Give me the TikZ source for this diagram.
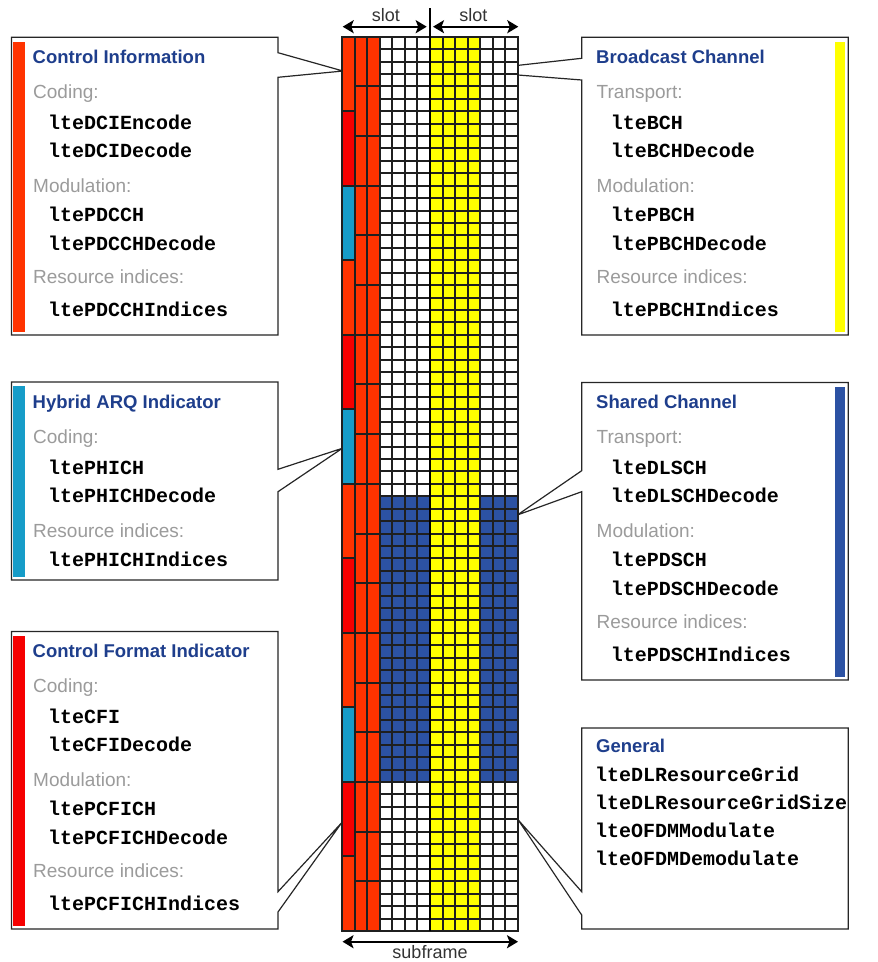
\documentclass[tikz,border=0pt]{standalone}
\usepackage{fontspec}
\setmainfont{Liberation Sans}
\newfontfamily\codefont{Liberation Mono}
\usetikzlibrary{arrows.meta,calc}
\definecolor{pdcch}{RGB}{255,51,0}
\definecolor{pcfich}{RGB}{245,0,0}
\definecolor{phich}{RGB}{22,156,200}
\definecolor{pbch}{RGB}{255,255,0}
\definecolor{pdsch}{RGB}{44,82,163}
\definecolor{titleblue}{RGB}{30,62,140}
\definecolor{labelgrey}{RGB}{155,155,155}
\pgfmathdeclarefunction{gcx}{1}{\pgfmathparse{round(342+#1*12.5714)}}
\pgfmathdeclarefunction{gry}{1}{\pgfmathparse{round(36.7+#1*12.4208)}}
\begin{document}
\begin{tikzpicture}[x=1pt,y=-1pt,
  panel/.style={rectangle,inner sep=0pt,outer sep=0pt},
  outline/.style={draw=black!85,line width=1.2pt,fill=white,line join=miter},
  ptitle/.style={anchor=base west,inner sep=0pt,font=\fontsize{18.5}{20}\selectfont\bfseries,text=titleblue},
  plabel/.style={anchor=base west,inner sep=0pt,font=\fontsize{19}{21}\selectfont,text=labelgrey},
  fn/.style={anchor=base west,inner sep=0pt,font=\fontsize{20}{22}\selectfont\codefont\bfseries},
  gridline/.style={draw=black!88,line width=1.9pt},
  dimarrow/.style={line width=2.4pt,{Stealth[length=11pt,width=13pt,inset=2.5pt]}-{Stealth[length=11pt,width=13pt,inset=2.5pt]}},
  dimlabel/.style={anchor=base,inner sep=0pt,font=\fontsize{18}{20}\selectfont,text=black!80}
]
\useasboundingbox (0,0) rectangle (878,962);

% ---------- panels ----------
\node[panel,minimum width=266.5pt,minimum height=297.7pt] (ci) at (144.75,186.15) {};
\node[panel,minimum width=266.6pt,minimum height=297.7pt] (bc) at (715,186.15) {};
\node[panel,minimum width=266.5pt,minimum height=198pt] (hq) at (144.75,481) {};
\node[panel,minimum width=266.6pt,minimum height=297.5pt] (sc) at (715,531.25) {};
\node[panel,minimum width=266.5pt,minimum height=297.5pt] (cf) at (144.75,780.25) {};
\node[panel,minimum width=266.6pt,minimum height=201pt] (ge) at (715,828.5) {};

% callout tips and notch heights
\coordinate (ciTip) at (343,71);    \coordinate (ciA) at (0,52.7);  \coordinate (ciB) at (0,77.3);
\coordinate (bcTip) at (467,71);    \coordinate (bcA) at (0,58.3);  \coordinate (bcB) at (0,80);
\coordinate (hqTip) at (342.3,448.3); \coordinate (hqA) at (0,469.3); \coordinate (hqB) at (0,491.7);
\coordinate (scTip) at (517.3,515); \coordinate (scA) at (0,470.7); \coordinate (scB) at (0,491.7);
\coordinate (cfTip) at (341.7,822.7); \coordinate (cfA) at (0,891.7); \coordinate (cfB) at (0,912);
\coordinate (geTip) at (518.3,820); \coordinate (geA) at (0,891.7); \coordinate (geB) at (0,915);

% left panels (notch on the right edge)
\foreach \p in {ci,hq,cf}{
  \draw[outline] (\p.east |- \p A) -- (\p.north east) -- (\p.north west) -- (\p.south west)
     -- (\p.south east) -- (\p.east |- \p B) -- (\p Tip) -- cycle;
}
% right panels (notch on the left edge)
\foreach \p in {bc,sc,ge}{
  \draw[outline] (\p.west |- \p A) -- (\p.north west) -- (\p.north east) -- (\p.south east)
     -- (\p.south west) -- (\p.west |- \p B) -- (\p Tip) -- cycle;
}

% colour bars
\fill[pdcch]  ($(ci.north west)+(1.8,4.4)$) rectangle ($(ci.south west)+(13.5,-3.3)$);
\fill[phich]  ($(hq.north west)+(1.8,4.4)$) rectangle ($(hq.south west)+(13.5,-3.3)$);
\fill[pcfich] ($(cf.north west)+(1.8,4.4)$) rectangle ($(cf.south west)+(13.5,-3.3)$);
\fill[pbch]   ($(bc.north east)+(-13.3,4.4)$) rectangle ($(bc.south east)+(-3.3,-3.3)$);
\fill[pdsch]  ($(sc.north east)+(-13.3,4.4)$) rectangle ($(sc.south east)+(-3.3,-3.3)$);

% ---------- panel texts ----------
% Control Information
\node[ptitle] (ciT) at (32.5,63.3) {Control Information};
\node[plabel] (ciL1) at (33,98.3) {Coding:};
\node[fn] (ciC1) at (48,129.3) {lteDCIEncode};
\node[fn] (ciC2) at (48,157.5) {lteDCIDecode};
\node[plabel] (ciL2) at (33,192.5) {Modulation:};
\node[fn] (ciC3) at (48,221.5) {ltePDCCH};
\node[fn] (ciC4) at (48,250) {ltePDCCHDecode};
\node[plabel] (ciL3) at (33,283.3) {Resource indices:};
\node[fn] (ciC5) at (48,316) {ltePDCCHIndices};
% Broadcast Channel
\node[ptitle] (bcT) at (596,63.3) {Broadcast Channel};
\node[plabel] (bcL1) at (596.5,98.3) {Transport:};
\node[fn] (bcC1) at (610.7,129.3) {lteBCH};
\node[fn] (bcC2) at (610.7,157.5) {lteBCHDecode};
\node[plabel] (bcL2) at (596.5,192.5) {Modulation:};
\node[fn] (bcC3) at (610.7,221.5) {ltePBCH};
\node[fn] (bcC4) at (610.7,250) {ltePBCHDecode};
\node[plabel] (bcL3) at (596.5,283.3) {Resource indices:};
\node[fn] (bcC5) at (610.7,316) {ltePBCHIndices};
% Hybrid ARQ Indicator
\node[ptitle] (hqT) at (32.5,408) {Hybrid ARQ Indicator};
\node[plabel] (hqL1) at (33,443) {Coding:};
\node[fn] (hqC1) at (48,474) {ltePHICH};
\node[fn] (hqC2) at (48,502.2) {ltePHICHDecode};
\node[plabel] (hqL2) at (33,537.2) {Resource indices:};
\node[fn] (hqC3) at (48,566) {ltePHICHIndices};
% Shared Channel
\node[ptitle] (scT) at (596,408.5) {Shared Channel};
\node[plabel] (scL1) at (596.5,443.5) {Transport:};
\node[fn] (scC1) at (610.7,474.5) {lteDLSCH};
\node[fn] (scC2) at (610.7,502.7) {lteDLSCHDecode};
\node[plabel] (scL2) at (596.5,537.7) {Modulation:};
\node[fn] (scC3) at (610.7,566.7) {ltePDSCH};
\node[fn] (scC4) at (610.7,595.2) {ltePDSCHDecode};
\node[plabel] (scL3) at (596.5,628.5) {Resource indices:};
\node[fn] (scC5) at (610.7,661.2) {ltePDSCHIndices};
% Control Format Indicator
\node[ptitle] (cfT) at (32.5,657.5) {Control Format Indicator};
\node[plabel] (cfL1) at (33,692.5) {Coding:};
\node[fn] (cfC1) at (48,723.5) {lteCFI};
\node[fn] (cfC2) at (48,751.7) {lteCFIDecode};
\node[plabel] (cfL2) at (33,786.7) {Modulation:};
\node[fn] (cfC3) at (48,815.7) {ltePCFICH};
\node[fn] (cfC4) at (48,844.2) {ltePCFICHDecode};
\node[plabel] (cfL3) at (33,877.5) {Resource indices:};
\node[fn] (cfC5) at (48,910.2) {ltePCFICHIndices};
% General
\node[ptitle] (geT) at (596,752.6) {General};
\node[fn] (geC1) at (595,781) {lteDLResourceGrid};
\node[fn] (geC2) at (595,809) {lteDLResourceGridSize};
\node[fn] (geC3) at (595,837) {lteOFDMModulate};
\node[fn] (geC4) at (595,865) {lteOFDMDemodulate};

% ---------- resource grid (lines snapped to pixel edges) ----------
\fill[white] ({gcx(0)},{gry(0)}) rectangle ({gcx(14)},{gry(72)});
\fill[pdcch] ({gcx(0)},{gry(0)}) rectangle ({gcx(3)},{gry(72)});
\foreach \c [count=\i from 0] in {pdcch,pcfich,phich,pdcch,pcfich,phich,pdcch,pcfich,pdcch,phich,pcfich,pdcch}
  \fill[\c] ({gcx(0)},{gry(6*\i)}) rectangle ({gcx(1)},{gry(6*\i+6)});
\fill[pbch] ({gcx(7)},{gry(0)}) rectangle ({gcx(11)},{gry(72)});
\fill[pdsch] ({gcx(3)},{gry(37)}) rectangle ({gcx(7)},{gry(60)});
\fill[pdsch] ({gcx(11)},{gry(37)}) rectangle ({gcx(14)},{gry(60)});
\foreach \j in {0,...,72}
  \draw[gridline] ({gcx(3)},{gry(\j)}) -- ({gcx(14)},{gry(\j)});
\foreach \j in {0,6,...,72}
  \draw[gridline] ({gcx(0)},{gry(\j)}) -- ({gcx(1)},{gry(\j)});
\foreach \j in {0,4,...,72}
  \draw[gridline] ({gcx(1)},{gry(\j)}) -- ({gcx(3)},{gry(\j)});
\foreach \i in {0,...,14}
  \draw[gridline] ({gcx(\i)},{gry(0)}) -- ({gcx(\i)},{gry(72)});
\draw[gridline,line cap=rect] ({gcx(0)},{gry(0)}) rectangle ({gcx(14)},{gry(72)});

% slot divider
\coordinate (divTop) at ({gcx(7)},8.3);
\coordinate (divBot) at ({gcx(7)},{gry(72)});
\draw[line width=2.8pt] (divTop) -- (divBot);

% ---------- dimension arrows ----------
\coordinate (s1L) at (342.7,26.7); \coordinate (s1R) at (426.7,26.7);
\coordinate (s2L) at (433,26.7); \coordinate (s2R) at (518.3,26.7);
\coordinate (sfL) at (342.5,941.7); \coordinate (sfR) at (518,941.7);
\draw[dimarrow] (s1L) -- (s1R);
\draw[dimarrow] (s2L) -- (s2R);
\draw[dimarrow] (sfL) -- (sfR);
\node[dimlabel] (slot1) at (385.8,21.7) {slot};
\node[dimlabel] (slot2) at (473.3,21.7) {slot};
\node[dimlabel] (subf) at (430,958) {subframe};
\end{tikzpicture}
\end{document}
